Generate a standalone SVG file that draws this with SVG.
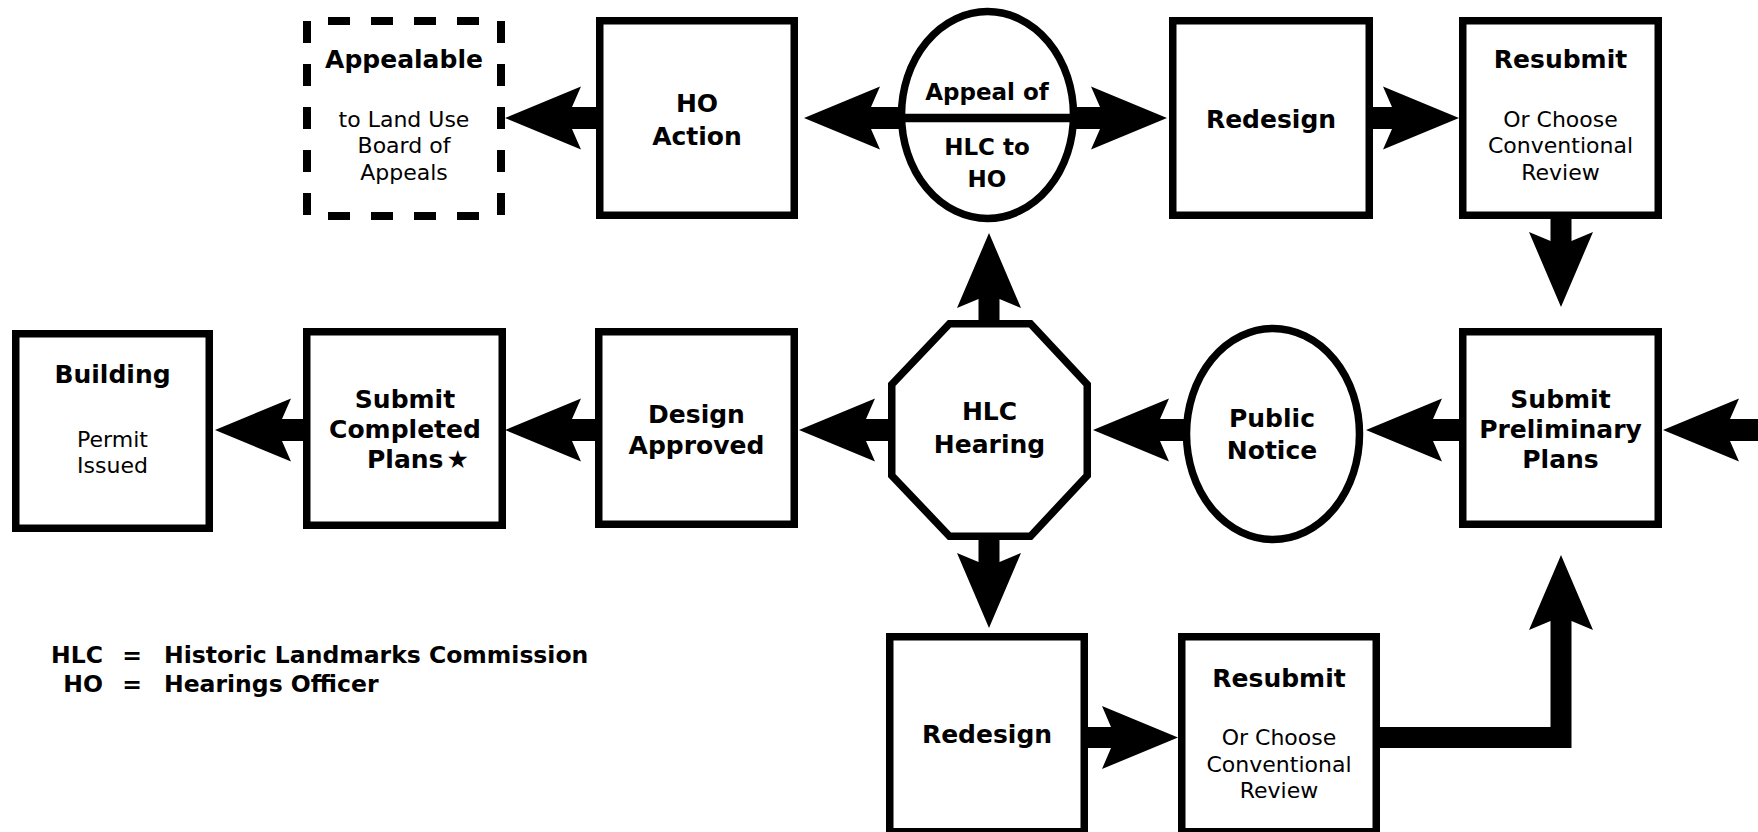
<svg xmlns="http://www.w3.org/2000/svg" width="1758" height="832" viewBox="0 0 1758 832">
<style>
.box{fill:#fff;stroke:#000;stroke-width:7.5}
.dash{fill:none;stroke:#000;stroke-width:8;stroke-dasharray:22 21}
.arr{fill:#000;stroke:none}
.b{font-family:"DejaVu Sans","Verdana",sans-serif;font-weight:bold;font-size:25px;text-anchor:middle;fill:#000}
.b23{font-size:23px}
.r{font-family:"DejaVu Sans","Verdana",sans-serif;font-size:22px;text-anchor:middle;fill:#000}
.leg{font-family:"DejaVu Sans","Verdana",sans-serif;font-weight:bold;font-size:23.5px;fill:#000}
</style>
<rect width="1758" height="832" fill="#fff"/>
<g id="connectors">
  <polygon class="arr" points="505,118 581,86.5 572,107 600,107 600,129 572,129 581,149.5"/>
  <polygon class="arr" points="804,118 880,86.5 871,107 902,107 902,129 871,129 880,149.5"/>
  <polygon class="arr" points="1167,118 1091,86.5 1100,107 1073,107 1073,129 1100,129 1091,149.5"/>
  <polygon class="arr" points="1459,118 1383,86.5 1392,107 1370,107 1370,129 1392,129 1383,149.5"/>
  <polygon class="arr" points="1663,430 1739,398.5 1730,419 1760,419 1760,441 1730,441 1739,461.5"/>
  <polygon class="arr" points="1366,430 1442,398.5 1433,419 1462,419 1462,441 1433,441 1442,461.5"/>
  <polygon class="arr" points="1093,430 1169,398.5 1160,419 1188,419 1188,441 1160,441 1169,461.5"/>
  <polygon class="arr" points="799,430 875,398.5 866,419 892,419 892,441 866,441 875,461.5"/>
  <polygon class="arr" points="505,430 581,398.5 572,419 599,419 599,441 572,441 581,461.5"/>
  <polygon class="arr" points="215,430 291,398.5 282,419 306,419 306,441 282,441 291,461.5"/>
  <polygon class="arr" points="989,233 1021,308 999.5,299 999.5,324 978.5,324 978.5,299 957,308"/>
  <polygon class="arr" points="989,628 1021,553 999.5,562 999.5,536 978.5,536 978.5,562 957,553"/>
  <polygon class="arr" points="1561,307 1593,232 1571.5,241 1571.5,214 1550.5,214 1550.5,241 1529,232"/>
  <polygon class="arr" points="1178,737.5 1102,706 1111,727 1086,727 1086,748 1111,748 1102,769"/>
  <polygon class="arr" points="1376,727 1550.5,727 1550.5,621 1529,630 1561,555 1593,630 1571.5,621 1571.5,748 1376,748"/>
</g>
<g id="appealable">
  <line class="dash" x1="307" y1="21" x2="307" y2="216"/>
  <line class="dash" x1="501" y1="21" x2="501" y2="216"/>
  <line class="dash" x1="307" y1="21" x2="500" y2="21" stroke-dashoffset="22"/>
  <line class="dash" x1="307" y1="216" x2="500" y2="216" stroke-dashoffset="22"/>
  <text class="b" x="404" y="68">Appealable</text>
  <text class="r" x="404" y="127">to Land Use</text>
  <text class="r" x="404" y="153">Board of</text>
  <text class="r" x="404" y="180">Appeals</text>
</g>
<g id="ho-action">
  <rect class="box" x="599.75" y="20.75" width="194.5" height="194.5"/>
  <text class="b" x="697" y="112">HO</text>
  <text class="b" x="697" y="145">Action</text>
</g>
<g id="appeal">
  <ellipse class="box" cx="987.5" cy="115" rx="86" ry="103.5"/>
  <line x1="902" y1="118" x2="1073" y2="118" stroke="#000" stroke-width="8.5"/>
  <text class="b b23" x="987" y="100">Appeal of</text>
  <text class="b b23" x="987" y="155">HLC to</text>
  <text class="b b23" x="987" y="187">HO</text>
</g>
<g id="redesign-top">
  <rect class="box" x="1172.75" y="20.75" width="196.5" height="194.5"/>
  <text class="b" x="1271" y="128">Redesign</text>
</g>
<g id="resubmit-top">
  <rect class="box" x="1462.75" y="20.75" width="195.5" height="194.5"/>
  <text class="b" x="1560.5" y="68">Resubmit</text>
  <text class="r" x="1560.5" y="127">Or Choose</text>
  <text class="r" x="1560.5" y="153">Conventional</text>
  <text class="r" x="1560.5" y="180">Review</text>
</g>
<g id="building">
  <rect class="box" x="15.75" y="333.75" width="193.5" height="194.5"/>
  <text class="b" x="112.5" y="383">Building</text>
  <text class="r" x="112.5" y="447">Permit</text>
  <text class="r" x="112.5" y="473">Issued</text>
</g>
<g id="submit-completed">
  <rect class="box" x="306.75" y="331.75" width="195.5" height="193.5"/>
  <text class="b" x="405" y="408">Submit</text>
  <text class="b" x="405" y="438">Completed</text>
  <text class="b" x="367" y="468" style="text-anchor:start">Plans<tspan font-weight="normal" dx="3">★</tspan></text>
</g>
<g id="design-approved">
  <rect class="box" x="598.75" y="331.75" width="195.5" height="192.5"/>
  <text class="b" x="696.5" y="423">Design</text>
  <text class="b" x="696.5" y="454">Approved</text>
</g>
<g id="hlc-hearing">
  <polygon class="box" points="949.5,323.75 1030.5,323.75 1087.25,384.5 1087.25,475.5 1030.5,536.25 949.5,536.25 891.75,475.5 891.75,384.5"/>
  <text class="b" x="989.5" y="420">HLC</text>
  <text class="b" x="989.5" y="453">Hearing</text>
</g>
<g id="public-notice">
  <ellipse class="box" cx="1273" cy="434" rx="86.5" ry="105.5"/>
  <text class="b" x="1272" y="427">Public</text>
  <text class="b" x="1272" y="459">Notice</text>
</g>
<g id="submit-preliminary">
  <rect class="box" x="1462.75" y="331.75" width="195.5" height="192.5"/>
  <text class="b" x="1560.5" y="408">Submit</text>
  <text class="b" x="1560.5" y="438">Preliminary</text>
  <text class="b" x="1560.5" y="468">Plans</text>
</g>
<g id="redesign-bottom">
  <rect class="box" x="889.75" y="636.75" width="194.5" height="195"/>
  <text class="b" x="987" y="743">Redesign</text>
</g>
<g id="resubmit-bottom">
  <rect class="box" x="1181.75" y="636.75" width="194.5" height="195"/>
  <text class="b" x="1279" y="687">Resubmit</text>
  <text class="r" x="1279" y="745">Or Choose</text>
  <text class="r" x="1279" y="772">Conventional</text>
  <text class="r" x="1279" y="798">Review</text>
</g>
<g id="legend">
  <text class="leg" x="103" y="663" text-anchor="end">HLC</text>
  <text class="leg" x="132" y="663" text-anchor="middle">=</text>
  <text class="leg" x="164" y="663">Historic Landmarks Commission</text>
  <text class="leg" x="103" y="692" text-anchor="end">HO</text>
  <text class="leg" x="132" y="692" text-anchor="middle">=</text>
  <text class="leg" x="164" y="692">Hearings Officer</text>
</g>
</svg>
